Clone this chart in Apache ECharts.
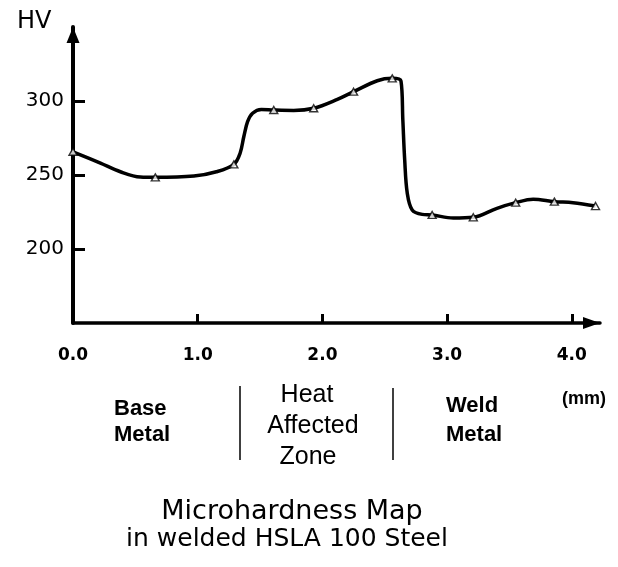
<!DOCTYPE html>
<html>
<head>
<meta charset="utf-8">
<script src="https://cdn.jsdelivr.net/npm/echarts@6/dist/echarts.min.js"></script>
<style>html,body{margin:0;padding:0;background:#fff;}#c{width:618px;height:567px;}</style>
</head>
<body>
<div id="c"></div>
<script>
// Curve (distance in mm, hardness HV)
var curveX = [0, 0.22, 0.38, 0.54, 0.66, 0.97, 1.15, 1.29, 1.34, 1.37, 1.40, 1.44, 1.51, 1.61, 1.77, 1.93, 2.12, 2.25, 2.44, 2.56, 2.63, 2.645, 2.66, 2.68, 2.72, 2.80, 2.88, 3.05, 3.21, 3.40, 3.55, 3.69, 3.86, 4.01, 4.19];
var curveY = [265.7, 258, 252.2, 248.6, 248.4, 249.3, 252.2, 257.2, 264.7, 276, 286, 291.7, 294.3, 293.9, 293.6, 295.1, 301.1, 306.3, 313.7, 315.3, 313.5, 287, 260, 238, 226.4, 223.4, 223, 220.9, 221.4, 227.5, 231.3, 233.6, 232, 231.3, 229];
// Measurement points (triangles)
var markX = [0, 0.66, 1.29, 1.61, 1.93, 2.25, 2.56, 2.88, 3.21, 3.55, 3.86, 4.19];
var markY = [265.7, 248.4, 257.2, 293.9, 295.1, 306.3, 315.3, 223, 221.4, 231.3, 232, 229];
// Tick labels
var xTicks = [0, 1, 2, 3, 4];
var xTickMarks = [1, 2, 3, 4];
var yTicks = [200, 250, 300];

var chart = echarts.init(document.getElementById('c'));
var F = '"DejaVu Sans", Verdana, sans-serif';
var A = '"Liberation Sans", Arial, Helvetica, sans-serif';
function zip(a, b) { return a.map(function (v, i) { return [v, b[i]]; }); }

chart.setOption({
  animation: false,
  backgroundColor: '#fff',
  grid: { left: 73, right: 18, top: 27, bottom: 244 },
  xAxis: {
    type: 'value', min: 0, max: 4.226,
    splitLine: { show: false },
    axisLine: { show: true, lineStyle: { color: '#000', width: 3.5 }, symbol: ['none', 'triangle'], symbolSize: [12, 17], symbolOffset: [0, -8.5] },
    axisTick: { show: true, inside: true, length: 9, lineStyle: { color: '#000', width: 3 }, customValues: xTickMarks },
    axisLabel: { color: '#000', fontFamily: F, fontWeight: 'bold', fontSize: 17, margin: 24, customValues: xTicks, formatter: function (v) { return v.toFixed(1); } }
  },
  yAxis: {
    type: 'value', min: 150, max: 350,
    splitLine: { show: false },
    axisLine: { show: true, lineStyle: { color: '#000', width: 4 }, symbol: ['none', 'triangle'], symbolSize: [13, 16], symbolOffset: [0, -8] },
    axisTick: { show: true, inside: true, length: 12, lineStyle: { color: '#000', width: 3 }, customValues: yTicks },
    axisLabel: { color: '#000', fontFamily: F, fontSize: 20, margin: 9, customValues: yTicks }
  },
  series: [
    {
      type: 'line', data: zip(curveX, curveY), smooth: 0.35,
      showSymbol: false, clip: false,
      lineStyle: { color: '#000', width: 3.5 }
    },
    {
      type: 'scatter', data: zip(markX, markY), symbol: 'triangle', symbolSize: [8, 7], clip: false,
      itemStyle: { color: '#fff', borderColor: '#000', borderWidth: 1.4 }, z: 5
    }
  ],
  graphic: [
    { type: 'text', left: 17, top: 10, style: { text: 'HV', font: '24px ' + F, fill: '#000' } },
    { type: 'text', x: 584, y: 399, style: { text: '(mm)', font: 'bold 18px ' + A, fill: '#000', align: 'center', verticalAlign: 'middle' } },
    { type: 'text', x: 114, y: 409, style: { text: 'Base', font: 'bold 22px ' + A, fill: '#000', align: 'left', verticalAlign: 'middle' } },
    { type: 'text', x: 114, y: 435, style: { text: 'Metal', font: 'bold 22px ' + A, fill: '#000', align: 'left', verticalAlign: 'middle' } },
    { type: 'line', shape: { x1: 240, y1: 386, x2: 240, y2: 460 }, style: { stroke: '#000', lineWidth: 1.5 } },
    { type: 'text', x: 307, y: 395, style: { text: 'Heat', font: '25px ' + A, fill: '#000', align: 'center', verticalAlign: 'middle' } },
    { type: 'text', x: 313, y: 426, style: { text: 'Affected', font: '25px ' + A, fill: '#000', align: 'center', verticalAlign: 'middle' } },
    { type: 'text', x: 308, y: 457, style: { text: 'Zone', font: '25px ' + A, fill: '#000', align: 'center', verticalAlign: 'middle' } },
    { type: 'line', shape: { x1: 393, y1: 388, x2: 393, y2: 460 }, style: { stroke: '#000', lineWidth: 1.5 } },
    { type: 'text', x: 446, y: 406, style: { text: 'Weld', font: 'bold 22px ' + A, fill: '#000', align: 'left', verticalAlign: 'middle' } },
    { type: 'text', x: 446, y: 435, style: { text: 'Metal', font: 'bold 22px ' + A, fill: '#000', align: 'left', verticalAlign: 'middle' } },
    { type: 'text', x: 292, y: 512, style: { text: 'Microhardness Map', font: '27px ' + F, fill: '#000', align: 'center', verticalAlign: 'middle' } },
    { type: 'text', x: 287, y: 539, style: { text: 'in welded HSLA 100 Steel', font: '25px ' + F, fill: '#000', align: 'center', verticalAlign: 'middle' } }
  ]
});
</script>
</body>
</html>
